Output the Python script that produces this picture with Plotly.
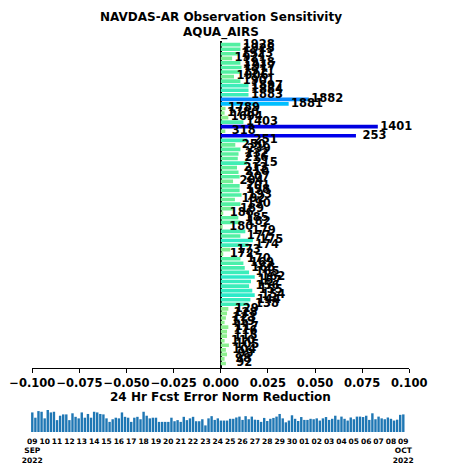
import plotly.graph_objects as go
import pandas as pd

# ---- main chart data (top to bottom) ----
channels = ['1928', '1925', '1923', '1921', '1918', '1917', '1911', '1906', '1901', '1897',
            '1884', '1883', '1882', '1881', '1789', '1780', '1694', '1403', '1401',
            '318', '253', '251', '250', '239', '232', '216', '215', '213', '210', '207',
            '204', '201', '198', '193', '192', '190', '189', '186', '185', '182', '180',
            '179', '177', '175', '174', '173', '172', '170', '169', '168', '165', '162',
            '157', '156', '155', '154', '144', '138', '129', '128', '123', '119', '117',
            '116', '115', '110', '105', '104', '99', '98', '92']

sensitivity = [0.0104, 0.0104, 0.0095, 0.0060, 0.0104, 0.0110, 0.0104, 0.0070, 0.0104, 0.0147,
               0.0147, 0.0147, 0.0467, 0.0360, 0.0025, 0.0020, 0.0040, 0.0120, 0.0833,
               0.0024, 0.0717, 0.0140, 0.0077, 0.0104, 0.0094, 0.0090, 0.0140, 0.0086, 0.0094, 0.0100,
               0.0065, 0.0100, 0.0100, 0.0110, 0.0075, 0.0104, 0.0067, 0.0013, 0.0093, 0.0104, 0.0010,
               0.0130, 0.0104, 0.0170, 0.0147, 0.0050, 0.0013, 0.0104, 0.0120, 0.0127, 0.0150, 0.0180,
               0.0160, 0.0150, 0.0167, 0.0180, 0.0157, 0.0147, 0.0040, 0.0033, 0.0027, 0.0020, 0.0040,
               0.0033, 0.0033, 0.0020, 0.0043, 0.0027, 0.0033, 0.0020, 0.0027]

# ---- bottom time series (6-hourly cycles) ----
cycle_start = '2022-09-09 00:00'
cycle_values = [0.89, 0.65, 0.95, 0.92, 0.62, 1.00, 0.89, 0.92, 0.54, 0.74,
                0.80, 0.80, 0.54, 0.85, 0.69, 0.62, 0.89, 0.65, 0.82, 0.65,
                0.92, 0.89, 0.82, 0.80, 0.62, 0.46, 0.58, 0.65, 0.62, 0.89,
                0.69, 0.65, 0.46, 0.65, 0.69, 0.58, 0.92, 0.74, 0.62, 0.65,
                0.65, 0.46, 0.46, 0.46, 0.46, 0.65, 0.49, 0.54, 0.46, 0.69,
                0.54, 0.62, 0.69, 0.49, 0.49, 0.58, 0.30, 0.62, 0.72, 0.55,
                0.62, 0.52, 0.52, 0.52,
                0.60, 0.60, 0.66, 0.70, 0.55, 0.72, 0.58, 0.70, 0.56, 0.55,
                0.46, 0.64, 0.50, 0.60, 0.64, 0.70, 0.82, 0.62, 0.44, 0.52,
                0.76, 0.60, 0.50, 0.68, 0.55, 0.55, 0.60, 0.58, 0.62, 0.52,
                0.62, 0.68, 0.55, 0.60, 0.74, 0.56, 0.70, 0.60, 0.52, 0.66,
                0.58, 0.70, 0.70, 0.68, 0.74, 0.55, 0.85, 0.58, 0.70, 0.62,
                0.58, 0.66, 0.60, 0.52, 0.56, 0.78, 0.80]
cycle_times = pd.date_range(cycle_start, periods=len(cycle_values), freq='6h')

day_ticks = pd.date_range('2022-09-09', '2022-10-09', freq='D')
tick_text = [d.strftime('%d') for d in day_ticks]
tick_text[0] = '09<br>SEP<br>2022'
tick_text[-1] = '09<br>OCT<br>2022'

x_ticks = [-0.1, -0.075, -0.05, -0.025, 0.0, 0.025, 0.05, 0.075, 0.1]
label_offset = 0.0098

colorscale = [[0.0, '#90EE90'], [0.05, '#8CEF8E'], [0.13, '#52F0A2'], [0.22, '#2EEBC8'],
              [0.45, '#00BFFF'], [0.6, '#0A84FF'], [0.85, '#0000F0'], [1.0, '#0000E0']]

bold = dict(family='DejaVu Sans', color='black', weight='bold')

fig = go.Figure()
fig.add_trace(go.Bar(
    x=sensitivity, y=channels, orientation='h', width=0.8,
    marker=dict(color=sensitivity, colorscale=colorscale, cmin=0, cmax=0.08, line_width=0),
    xaxis='x', yaxis='y', hoverinfo='skip'))
fig.add_trace(go.Scatter(
    x=[v + label_offset for v in sensitivity], y=channels, mode='text', text=channels,
    textposition='middle center', textfont=dict(size=11.5, **bold),
    cliponaxis=False, xaxis='x', yaxis='y', hoverinfo='skip'))
fig.add_trace(go.Bar(
    x=cycle_times, y=cycle_values, marker=dict(color='#1f77b4', line_width=0),
    width=6 * 3600 * 1000 * 0.78, xaxis='x2', yaxis='y2', hoverinfo='skip'))

fig.update_layout(
    width=452, height=467, margin=dict(l=0, r=0, t=0, b=0, autoexpand=False),
    paper_bgcolor='white', plot_bgcolor='white', showlegend=False,
    xaxis=dict(domain=[32.3 / 452, 409.3 / 452], range=[-0.1, 0.1], anchor='y',
               tickvals=x_ticks, tickformat='.3f', ticks='outside', ticklen=4,
               tickwidth=1, tickcolor='black', showline=True, linecolor='black',
               linewidth=1, showgrid=False, zeroline=True, zerolinecolor='black',
               zerolinewidth=2, tickfont=dict(size=11.5, **bold), tickangle=0,
               automargin=False),
    yaxis=dict(domain=[(467 - 368) / 467, (467 - 41) / 467], type='category',
               categoryorder='array', categoryarray=channels[::-1],
               range=[-0.99, len(channels) - 1 + 0.81], anchor='x', automargin=False,
               showticklabels=False, showgrid=False, zeroline=False, showline=False, ticks=''),
    xaxis2=dict(domain=[28 / 452, 410 / 452], type='date', anchor='y2',
                range=['2022-09-08 15:40', '2022-10-09 13:00'],
                tickvals=day_ticks, ticktext=tick_text, tickangle=0, automargin=False,
                ticklabelstandoff=3,
                tickfont=dict(size=7.5, **bold), showline=False, showgrid=False,
                zeroline=False, ticks=''),
    yaxis2=dict(domain=[(467 - 432) / 467, (467 - 410) / 467], range=[0, 1.0],
                anchor='x2', visible=False),
    annotations=[
        dict(text='NAVDAS-AR Observation Sensitivity', x=220.8 / 452, y=(467 - 17) / 467,
             xref='paper', yref='paper', showarrow=False, xanchor='center', yanchor='middle',
             font=dict(size=12, **bold)),
        dict(text='AQUA_AIRS', x=220.8 / 452, y=(467 - 33) / 467,
             xref='paper', yref='paper', showarrow=False, xanchor='center', yanchor='middle',
             font=dict(size=12, **bold)),
        dict(text='24 Hr Fcst Error Norm Reduction', x=220.8 / 452, y=(467 - 397) / 467,
             xref='paper', yref='paper', showarrow=False, xanchor='center', yanchor='middle',
             font=dict(size=12, **bold)),
    ],
)

fig.write_html('out.html')
